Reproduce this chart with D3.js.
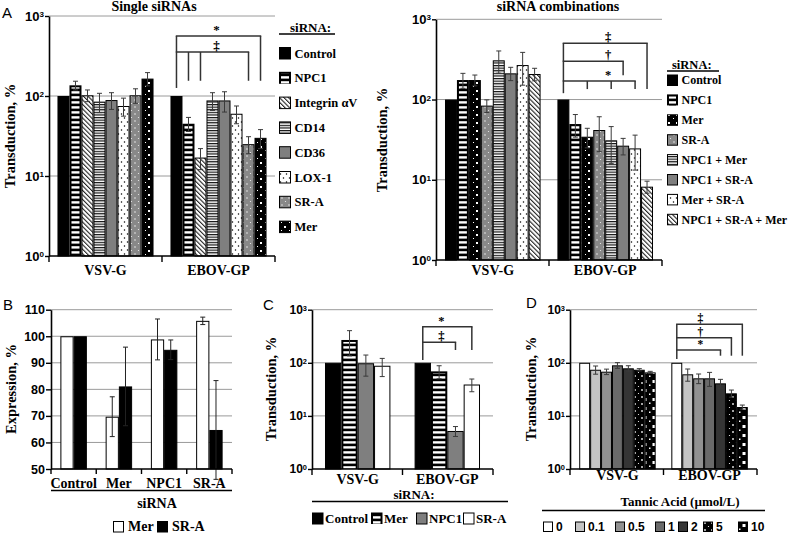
<!DOCTYPE html>
<html><head><meta charset="utf-8">
<script src="https://cdn.jsdelivr.net/npm/d3@7"></script>
<style>body{margin:0;background:#fff}</style>
</head><body>
<svg id="c" width="791" height="533"></svg>
<script>
// ---------------- DATA ----------------
const groups = ["VSV-G", "EBOV-GP"];
const logTicks = [1, 10, 100, 1000];
const logTickExp = ["0", "1", "2", "3"];

// Panel A (single siRNAs)
const seriesA1 = ["Control", "NPC1", "Integrin αV", "CD14", "CD36", "LOX-1", "SR-A", "Mer"];
const a1VSV = [100, 136, 102, 85, 89, 75, 102, 165];
const a1VSVerr = [0, 17, 17, 23, 21, 19, 21, 31];
const a1EBOV = [100, 45, 17, 88, 88, 60, 25, 30];
const a1EBOVerr = [0, 9, 5, 22, 25, 15, 6, 8];

// Panel A (siRNA combinations)
const seriesA2 = ["Control", "NPC1", "Mer", "SR-A", "NPC1 + Mer", "NPC1 + SR-A", "Mer + SR-A", "NPC1 + SR-A + Mer"];
const a2VSV = [100, 175, 175, 84, 308, 212, 269, 208];
const a2VSVerr = [0, 37, 27, 15, 95, 40, 118, 37];
const a2EBOV = [100, 49.5, 34.4, 41.7, 31, 26.6, 24.6, 8.2];
const a2EBOVerr = [0, 15.5, 9.4, 19.3, 15, 6.2, 11.4, 1.4];

// Panel B (expression)
const catsB = ["Control", "Mer", "NPC1", "SR-A"];
const seriesB = ["Mer", "SR-A"];
const bMer = [100, 69.7, 98.8, 105.8];
const bMerErr = [0, 7.5, 7.7, 1.4];
const bSRA = [100, 81.1, 94.9, 64.7];
const bSRAErr = [0, 14.8, 3.7, 18.6];
const ticksB = [50, 60, 70, 80, 90, 100, 110];

// Panel C
const seriesC = ["Control", "Mer", "NPC1", "SR-A"];
const cVSV = [100, 269, 98, 88];
const cVSVerr = [0, 134, 42, 33];
const cEBOV = [100, 69, 5.2, 39];
const cEBOVerr = [0, 19, 1.1, 10.5];

// Panel D (tannic acid, µmol/L)
const seriesD = ["0", "0.1", "0.5", "1", "2", "5", "10"];
const dVSV = [100, 74, 68, 89.6, 78.7, 74, 66];
const dVSVerr = [0, 13, 8, 11, 9.3, 3.6, 3];
const dEBOV = [100, 60.7, 51, 51, 41, 26.6, 14.7];
const dEBOVerr = [0, 15.7, 10.5, 15, 7.8, 4.1, 1.3];

// significance brackets (values in data units)
const bracketsA1 = [
  {label: "*", level: 562, drop: 155, targets: ["Mer"]},
  {label: "‡", level: 355, drop: 155, targets: ["NPC1", "Integrin αV", "SR-A"]}
];
const bracketsA2 = [
  {label: "‡", level: 504, drop: 135, targets: ["NPC1 + SR-A + Mer"]},
  {label: "†", level: 301, drop: 201, targets: ["NPC1 + SR-A"]},
  {label: "*", level: 170, drop: 135, targets: ["Mer", "NPC1 + Mer", "Mer + SR-A"]}
];
const bracketsC = [
  {label: "*", level: 479, drop: 174, targets: ["SR-A"]},
  {label: "‡", level: 243, drop: 174, targets: ["NPC1"]}
];
const bracketsD = [
  {label: "‡", level: 531, drop: 136, targets: ["10"]},
  {label: "†", level: 297, drop: 136, targets: ["5"]},
  {label: "*", level: 174, drop: 136, targets: ["2"]}
];

// ---------------- DRAWING ----------------
const svg = d3.select("#c");
svg.append("rect").attr("width", 791).attr("height", 533).attr("fill", "#fff");
const defs = svg.append("defs");
const SERIF = "'Liberation Serif','Times New Roman',serif";
const SANS = "'Liberation Sans',Arial,sans-serif";

function pat(id, w, h, bg, draw, tr) {
  const p = defs.append("pattern").attr("id", id).attr("patternUnits", "userSpaceOnUse")
    .attr("width", w).attr("height", h);
  if (tr) p.attr("patternTransform", tr);
  p.append("rect").attr("width", w).attr("height", h).attr("fill", bg);
  draw(p);
}
pat("hstripe", 4, 5, "#000", p => p.append("rect").attr("y", 1.2).attr("width", 4).attr("height", 2.4).attr("fill", "#fff"));
pat("diag", 3.2, 3.2, "#fff", p => p.append("rect").attr("width", 1.1).attr("height", 3.2).attr("fill", "#222"), "rotate(-45)");
pat("fine", 4, 2.6, "#fff", p => p.append("rect").attr("width", 4).attr("height", 1.2).attr("fill", "#111"));
pat("dotsB", 6, 8, "#fff", p => {
  p.append("circle").attr("cx", 1.5).attr("cy", 2).attr("r", 0.75).attr("fill", "#000");
  p.append("circle").attr("cx", 4.5).attr("cy", 6).attr("r", 0.75).attr("fill", "#000");
});
pat("dotsW", 7, 7, "#888", p => {
  p.append("circle").attr("cx", 2).attr("cy", 2).attr("r", 0.7).attr("fill", "#fff");
  p.append("circle").attr("cx", 5.5).attr("cy", 5.5).attr("r", 0.6).attr("fill", "#eee");
});
pat("merP", 8, 8, "#000", p => {
  p.append("rect").attr("x", 4).attr("y", 2).attr("width", 2).attr("height", 2).attr("fill", "#fff");
  p.append("rect").attr("x", 1).attr("y", 6).attr("width", 1).attr("height", 1).attr("fill", "#fff");
});
pat("d5", 7, 7, "#000", p => {
  p.append("circle").attr("cx", 1.5).attr("cy", 1.5).attr("r", 0.6).attr("fill", "#fff");
  p.append("rect").attr("x", 4.2).attr("y", 4.2).attr("width", 1.6).attr("height", 1.6).attr("fill", "#fff");
});
pat("d10", 9, 9, "#000", p => {
  p.append("rect").attr("x", 4.5).attr("y", 2).attr("width", 3).attr("height", 3).attr("fill", "#fff");
  p.append("rect").attr("x", 1).attr("y", 6.5).attr("width", 1.5).attr("height", 1.5).attr("fill", "#fff");
});

const ST = {
  black: {fill: "#000"},
  stripe: {fill: "url(#hstripe)", inset: true},
  diag: {fill: "url(#diag)"},
  fine: {fill: "url(#fine)"},
  gray: {fill: "#7f7f7f"},
  dotsB: {fill: "url(#dotsB)"},
  dotsW: {fill: "url(#dotsW)"},
  mer: {fill: "url(#merP)"},
  white: {fill: "#fff"},
  g1: {fill: "#c4c4c4"}, g2: {fill: "#919191"}, g3: {fill: "#6a6a6a"}, g4: {fill: "#353535"},
  d5: {fill: "url(#d5)"}, d10: {fill: "url(#d10)"}
};

function drawRect(g, x, y, w, h, st) {
  if (h <= 0) return;
  if (st.inset) {
    g.append("rect").attr("x", x).attr("y", y).attr("width", w).attr("height", h).attr("fill", "#000");
    g.append("rect").attr("x", x + 2).attr("y", y + 2).attr("width", Math.max(0, w - 4)).attr("height", Math.max(0, h - 2)).attr("fill", st.fill);
  } else {
    g.append("rect").attr("x", x + 0.5).attr("y", y + 0.5).attr("width", w - 1).attr("height", h - 0.5)
      .attr("fill", st.fill).attr("stroke", "#000").attr("stroke-width", 1);
  }
}

function errBar(g, cx, yv0, yv1, color) {
  g.append("line").attr("x1", cx).attr("x2", cx).attr("y1", yv0).attr("y2", yv1).attr("stroke", color).attr("stroke-width", 1);
  [yv0, yv1].forEach(yy => g.append("line").attr("x1", cx - 2.5).attr("x2", cx + 2.5).attr("y1", yy).attr("y2", yy).attr("stroke", color).attr("stroke-width", 1));
}

function yLabel(x, yc, text) {
  svg.append("text").attr("transform", `translate(${x},${yc}) rotate(-90)`).attr("text-anchor", "middle")
    .attr("font-family", SERIF).attr("font-weight", "bold").attr("font-size", 14.5).text(text);
}
function letter(x, y, t) {
  svg.append("text").attr("x", x).attr("y", y).attr("font-family", SANS).attr("font-size", 15).text(t);
}

function logPanel(c) {
  const g = svg.append("g");
  const y = d3.scaleLog().domain([1, 1000]).range([c.yBot, c.yTop]);
  const xb = d3.scaleBand().domain(groups).range([c.x0, c.x1]).paddingInner(c.pi).paddingOuter(c.po);
  const xs = d3.scaleBand().domain(c.series).range([0, xb.bandwidth()]);
  // grid
  [10, 100, 1000].forEach(v => g.append("line").attr("x1", c.x0).attr("x2", c.x1).attr("y1", y(v)).attr("y2", y(v))
    .attr("stroke", "#9a9a9a").attr("stroke-width", 1));
  // bars
  groups.forEach((gr, gi) => {
    c.series.forEach((s, si) => {
      const v = c.vals[gi][si];
      drawRect(g, xb(gr) + xs(s), y(v), xs.bandwidth(), c.yBot - y(v), c.styles[si]);
    });
  });
  groups.forEach((gr, gi) => {
    c.series.forEach((s, si) => {
      const v = c.vals[gi][si], e = c.errs[gi][si];
      if (!e) return;
      const cx = xb(gr) + xs(s) + xs.bandwidth() / 2;
      errBar(g, cx, y(Math.max(1, v - e)), y(v + e), "#3a3a3a");
    });
  });
  // y axis
  const ax = g.append("g").attr("transform", `translate(${c.x0},0)`)
    .call(d3.axisLeft(y).tickValues(logTicks).tickSize(4).tickSizeOuter(0).tickPadding(1).tickFormat(() => ""));
  ax.select(".domain").attr("stroke-width", 1.6);
  ax.selectAll(".tick line").attr("stroke-width", 1.4);
  ax.selectAll(".tick text").each(function (d, i) {
    const t = d3.select(this).attr("font-family", SANS).attr("font-weight", "bold").attr("font-size", c.tickFs).attr("fill", "#000");
    t.append("tspan").text("10");
    t.append("tspan").attr("font-size", c.tickFs * 0.62).attr("dy", "-0.45em").text(logTickExp[logTicks.indexOf(d)]);
  });
  // x axis
  g.append("line").attr("x1", c.x0).attr("x2", c.x1).attr("y1", c.yBot).attr("y2", c.yBot).attr("stroke", "#000").attr("stroke-width", 1.6);
  const bounds = [c.x0, (xb(groups[0]) + xb.bandwidth() + xb(groups[1])) / 2, c.x1];
  bounds.forEach(bx => g.append("line").attr("x1", bx).attr("x2", bx).attr("y1", c.yBot).attr("y2", c.yBot + 6).attr("stroke", "#000").attr("stroke-width", 1.4));
  groups.forEach(gr => g.append("text").attr("x", xb(gr) + xb.bandwidth() / 2).attr("y", c.labelY).attr("text-anchor", "middle")
    .attr("font-family", SERIF).attr("font-weight", "bold").attr("font-size", 14).text(gr));
  // brackets
  const bx = s => xb("EBOV-GP") + xs(s) + xs.bandwidth() / 2;
  const lx = bx(c.series[0]);
  const top = d3.max(c.brackets, b => b.level);
  const bg = g.append("g").attr("stroke", "#333").attr("stroke-width", 1.5).attr("fill", "none");
  bg.append("line").attr("x1", lx).attr("x2", lx).attr("y1", y(top)).attr("y2", y(c.leftDrop));
  c.brackets.forEach(b => {
    const rx = bx(b.targets[b.targets.length - 1]);
    bg.append("line").attr("x1", lx - 0.7).attr("x2", rx + 0.7).attr("y1", y(b.level)).attr("y2", y(b.level));
    b.targets.forEach(t => bg.append("line").attr("x1", bx(t)).attr("x2", bx(t)).attr("y1", y(b.level)).attr("y2", y(b.drop)));
    g.append("text").attr("x", xb("EBOV-GP") + c.labelFrac * xb.bandwidth()).attr("y", y(b.level) - 2)
      .attr("text-anchor", "middle").attr("font-family", SERIF).attr("font-weight", "bold").attr("font-size", c.markFs || 13).text(b.label);
  });
  return {xb, xs, y};
}

function legendV(x, y0, dy, sw, names, styles, fs, title, titleLine) {
  const g = svg.append("g");
  g.append("text").attr("x", title.x).attr("y", titleLine.y - 2).attr("font-family", SERIF).attr("font-weight", "bold").attr("font-size", fs + 0.5).text("siRNA:");
  g.append("line").attr("x1", titleLine.x1).attr("x2", titleLine.x2).attr("y1", titleLine.y).attr("y2", titleLine.y).attr("stroke", "#000").attr("stroke-width", 1.3);
  names.forEach((n, i) => {
    const yc = y0 + i * dy;
    drawRect(g, x, yc - sw / 2, sw, sw, styles[i]);
    g.append("text").attr("x", x + sw + 3.5).attr("y", yc + fs * 0.36).attr("font-family", SERIF).attr("font-weight", "bold").attr("font-size", fs).text(n);
  });
}

// ---- Panel A left
const stA1 = [ST.black, ST.stripe, ST.diag, ST.fine, ST.gray, ST.dotsB, ST.dotsW, ST.mer];
logPanel({x0: 49, x1: 275, yTop: 16, yBot: 256, pi: 0.15, po: 0.075, series: seriesA1,
  vals: [a1VSV, a1EBOV], errs: [a1VSVerr, a1EBOVerr], styles: stA1, tickFs: 13, labelY: 275,
  brackets: bracketsA1, leftDrop: 126, labelFrac: 0.48});
svg.append("text").attr("x", 154).attr("y", 11).attr("text-anchor", "middle").attr("font-family", SERIF).attr("font-weight", "bold").attr("font-size", 14).text("Single siRNAs");
legendV(279, 53, 24.8, 12, seriesA1, stA1, 12.5, {x: 290}, {x1: 279, x2: 335, y: 34});
yLabel(15, 136, "Transduction, %");
letter(2, 18, "A");

// ---- Panel A right
const stA2 = [ST.black, ST.stripe, ST.mer, ST.dotsW, ST.fine, ST.gray, ST.dotsB, ST.diag];
logPanel({x0: 436, x1: 662, yTop: 19.3, yBot: 260, pi: 0.15, po: 0.08, series: seriesA2,
  vals: [a2VSV, a2EBOV], errs: [a2VSVerr, a2EBOVerr], styles: stA2, tickFs: 13, labelY: 275,
  brackets: bracketsA2, leftDrop: 120, labelFrac: 0.53, markFs: 12.5});
svg.append("text").attr("x", 558).attr("y", 11).attr("text-anchor", "middle").attr("font-family", SERIF).attr("font-weight", "bold").attr("font-size", 14).text("siRNA combinations");
legendV(667, 80, 19.9, 11, seriesA2, stA2, 12, {x: 672}, {x1: 667, x2: 719, y: 71});
yLabel(387, 140, "Transduction, %");

// ---- Panel B
(function () {
  const g = svg.append("g");
  const y = d3.scaleLinear().domain([50, 110]).range([469, 309.7]);
  const xb = d3.scaleBand().domain(catsB).range([51, 232]).paddingInner(0.415).paddingOuter(0.2075);
  const xs = d3.scaleBand().domain(seriesB).range([0, xb.bandwidth()]);
  ticksB.slice(1).forEach(v => g.append("line").attr("x1", 51).attr("x2", 232).attr("y1", y(v)).attr("y2", y(v)).attr("stroke", "#9a9a9a"));
  const vals = [bMer, bSRA], errs = [bMerErr, bSRAErr], sts = [ST.white, ST.black];
  seriesB.forEach((s, si) => catsB.forEach((c, ci) => {
    const v = vals[si][ci];
    drawRect(g, xb(c) + xs(s), y(v), xs.bandwidth(), 469 - y(v), sts[si]);
  }));
  seriesB.forEach((s, si) => catsB.forEach((c, ci) => {
    const v = vals[si][ci], e = errs[si][ci];
    if (!e) return;
    errBar(g, xb(c) + xs(s) + xs.bandwidth() / 2, y(v - e), y(v + e), "#222");
  }));
  const ax = g.append("g").attr("transform", "translate(51,0)").call(d3.axisLeft(y).tickValues(ticksB).tickSize(5).tickSizeOuter(0).tickPadding(1));
  ax.select(".domain").attr("stroke-width", 1.6);
  ax.selectAll(".tick line").attr("stroke-width", 1.4);
  ax.selectAll(".tick text").attr("font-family", SANS).attr("font-weight", "bold").attr("font-size", 12.5).attr("fill", "#000");
  g.append("line").attr("x1", 51).attr("x2", 232).attr("y1", 469).attr("y2", 469).attr("stroke", "#000").attr("stroke-width", 1.6);
  [51].concat(catsB.map(c => xb(c) + xb.bandwidth() + xb.step() * 0.2075)).forEach(bx =>
    g.append("line").attr("x1", bx).attr("x2", bx).attr("y1", 469).attr("y2", 474).attr("stroke", "#000").attr("stroke-width", 1.4));
  catsB.forEach(c => g.append("text").attr("x", xb(c) + xb.bandwidth() / 2).attr("y", 488).attr("text-anchor", "middle")
    .attr("font-family", SERIF).attr("font-weight", "bold").attr("font-size", 14).text(c));
  g.append("line").attr("x1", 51).attr("x2", 232).attr("y1", 490.5).attr("y2", 490.5).attr("stroke", "#000").attr("stroke-width", 1.3);
  g.append("text").attr("x", 157).attr("y", 508).attr("text-anchor", "middle").attr("font-family", SERIF).attr("font-weight", "bold").attr("font-size", 14).text("siRNA");
  const lx = [113, 157];
  seriesB.forEach((s, i) => {
    drawRect(g, lx[i], 521, 11, 11, sts[i]);
    g.append("text").attr("x", lx[i] + 15).attr("y", 531).attr("font-family", SERIF).attr("font-weight", "bold").attr("font-size", 14).text(s);
  });
})();
yLabel(16, 389, "Expression, %");
letter(3, 310, "B");

// ---- Panel C
const stC = [ST.black, ST.stripe, ST.gray, ST.white];
logPanel({x0: 312, x1: 493, yTop: 309.7, yBot: 469, pi: 0.27, po: 0.145, series: seriesC,
  vals: [cVSV, cEBOV], errs: [cVSVerr, cEBOVerr], styles: stC, tickFs: 12, labelY: 484,
  brackets: bracketsC, leftDrop: 113, labelFrac: 0.41, markFs: 12.5});
yLabel(276, 389, "Transduction, %");
letter(263, 310, "C");
svg.append("text").attr("x", 414).attr("y", 499).attr("text-anchor", "middle").attr("font-family", SERIF).attr("font-weight", "bold").attr("font-size", 13).text("siRNA:");
svg.append("line").attr("x1", 312).attr("x2", 508).attr("y1", 501.5).attr("y2", 501.5).attr("stroke", "#000").attr("stroke-width", 1.3);
[312, 371, 416, 463].forEach((lx, i) => {
  drawRect(svg, lx, 512.5, 11.5, 11.5, stC[i]);
  svg.append("text").attr("x", lx + 13).attr("y", 523).attr("font-family", SERIF).attr("font-weight", "bold").attr("font-size", 13).text(seriesC[i]);
});

// ---- Panel D
const stD = [ST.white, ST.g1, ST.g2, ST.g3, ST.g4, ST.d5, ST.d10];
logPanel({x0: 570, x1: 757, yTop: 309.7, yBot: 469, pi: 0.17, po: 0.1, series: seriesD,
  vals: [dVSV, dEBOV], errs: [dVSVerr, dEBOVerr], styles: stD, tickFs: 12, labelY: 480,
  brackets: bracketsD, leftDrop: 118, labelFrac: 0.38, markFs: 11.5});
yLabel(536, 389, "Transduction, %");
letter(526, 308, "D");
svg.append("text").attr("x", 680).attr("y", 506).attr("text-anchor", "middle").attr("font-family", SERIF).attr("font-weight", "bold").attr("font-size", 13).text("Tannic Acid (µmol/L)");
svg.append("line").attr("x1", 542).attr("x2", 765).attr("y1", 510.5).attr("y2", 510.5).attr("stroke", "#000").attr("stroke-width", 1.3);
[543, 575, 615, 655, 678, 703, 738].forEach((lx, i) => {
  drawRect(svg, lx, 521.5, 10, 10, stD[i]);
  svg.append("text").attr("x", lx + 13).attr("y", 531).attr("font-family", SANS).attr("font-weight", "bold").attr("font-size", 12).text(seriesD[i]);
});
</script>
</body></html>
